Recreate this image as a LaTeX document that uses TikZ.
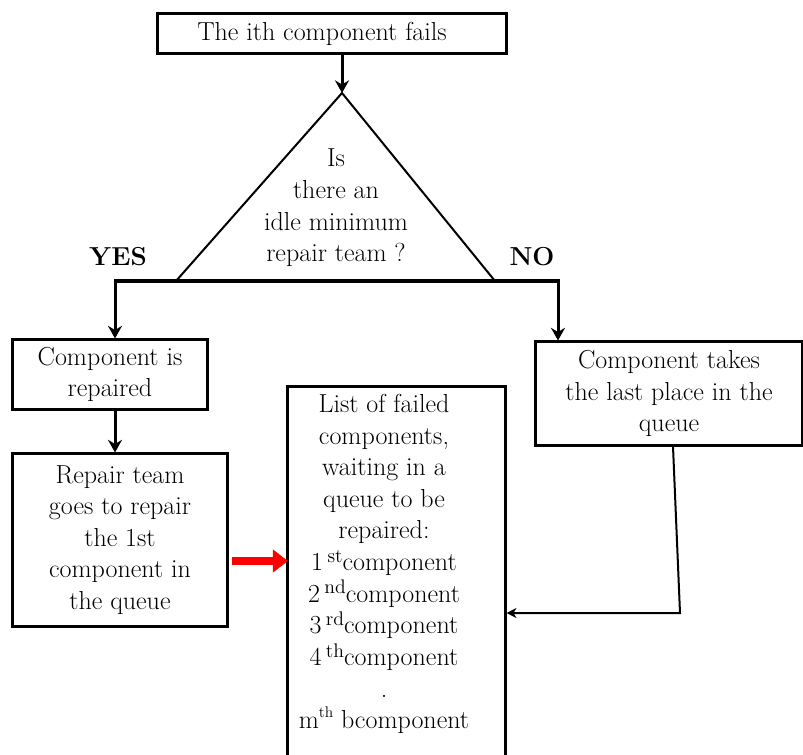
\documentclass[tikz,border=0pt]{standalone}
\usepackage{fontspec}
\usetikzlibrary{arrows.meta,positioning}

\newcommand{\sups}[1]{\,\raisebox{0.32em}{\fontsize{14}{14}\selectfont #1}}

\begin{document}
\begin{tikzpicture}[x=0.025cm, y=-0.025cm,
		B/.style = {draw, line width=0.075cm, align=center, inner sep=0,
			font=\fontsize{18.5}{22.5}\selectfont},
		T/.style = {align=center, inner sep=0, font=\fontsize{18.5}{22.5}\selectfont},
		L/.style = {inner sep=0, font=\fontsize{18.5}{22.5}\selectfont\bfseries},
		arr/.style = {line width=0.075cm, -{Stealth[length=9pt, width=10pt, inset=3pt]}},
		thinarr/.style = {line width=0.05cm, -{Stealth[length=7pt, width=7pt, inset=2pt]}},
		redarr/.style = {red, line width=0.2cm, -{Triangle[length=0.375cm, width=0.55cm]}}
		]
		\useasboundingbox (0,0) rectangle (803,755);
		
		\node[B, minimum width=8.7cm, minimum height=0.975cm] (fail) at (332,33.5)
			{The ith component fails\hspace*{0.5cm}};
		
		% decision
		\coordinate (apex) at (342,93);
		\coordinate (tl) at (176,281);
		\coordinate (tr) at (495,281);
		\coordinate (yesturn) at (115,281);
		\coordinate (noturn) at (558,281);
		\draw[line width=0.05cm] (tl) -- (apex) -- (tr);
		\node[T] (ask) at (336,208) {Is\\ there an\\ idle minimum\\ repair team ?};
		\node[L] (yes) at (118,257) {YES};
		\node[L] (no) at (532,257) {NO};
		
		\node[B, minimum width=4.85cm, minimum height=1.725cm] (repaired) at (110,374.5)
			{Component is\\ repaired};
		\node[B, minimum width=5.35cm, minimum height=4.3cm] (team) at (120,540)
			{Repair team\\ goes to repair\\ the 1st\\ component in\\ the queue};
		\node[B, minimum width=6.65cm, minimum height=2.575cm] (queue) at (669,393.5)
			{Component takes\\ the last place in the\\ queue};
		\node[B, minimum width=5.425cm, minimum height=9.825cm] (list) at (396.5,583.5) {};
		\node[T] (listtxt) at (384,564) {List of failed\\ components,\\ waiting in a\\
			queue to be\\ repaired:\\
			1\sups{st}component\\
			2\sups{nd}component\\
			3\sups{rd}component\\
			4\sups{th}component\\
			.\\
			m\raisebox{0.45em}{\fontsize{11}{11}\selectfont th} bcomponent};
		
		\coordinate (redin) at (288,561);
		\coordinate (qcorner) at (680,613);
		
		\draw[arr] (fail.south -| apex) -- (apex);
		\draw[arr] (tl) -- (yesturn) -- (repaired.north -| yesturn);
		\draw[arr] (tr) -- (noturn) -- (queue.north -| noturn);
		\draw[line width=0.075cm] (tl) -- (tr);
		\draw[arr] (repaired.south -| yesturn) -- (team.north -| yesturn);
		\draw[redarr] ([xshift=0.075cm]team.east |- redin) -- (redin);
		\draw[thinarr] ([xshift=0.1cm]queue.south) -- (qcorner) -- (qcorner -| list.east);
	\end{tikzpicture}
\end{document}
